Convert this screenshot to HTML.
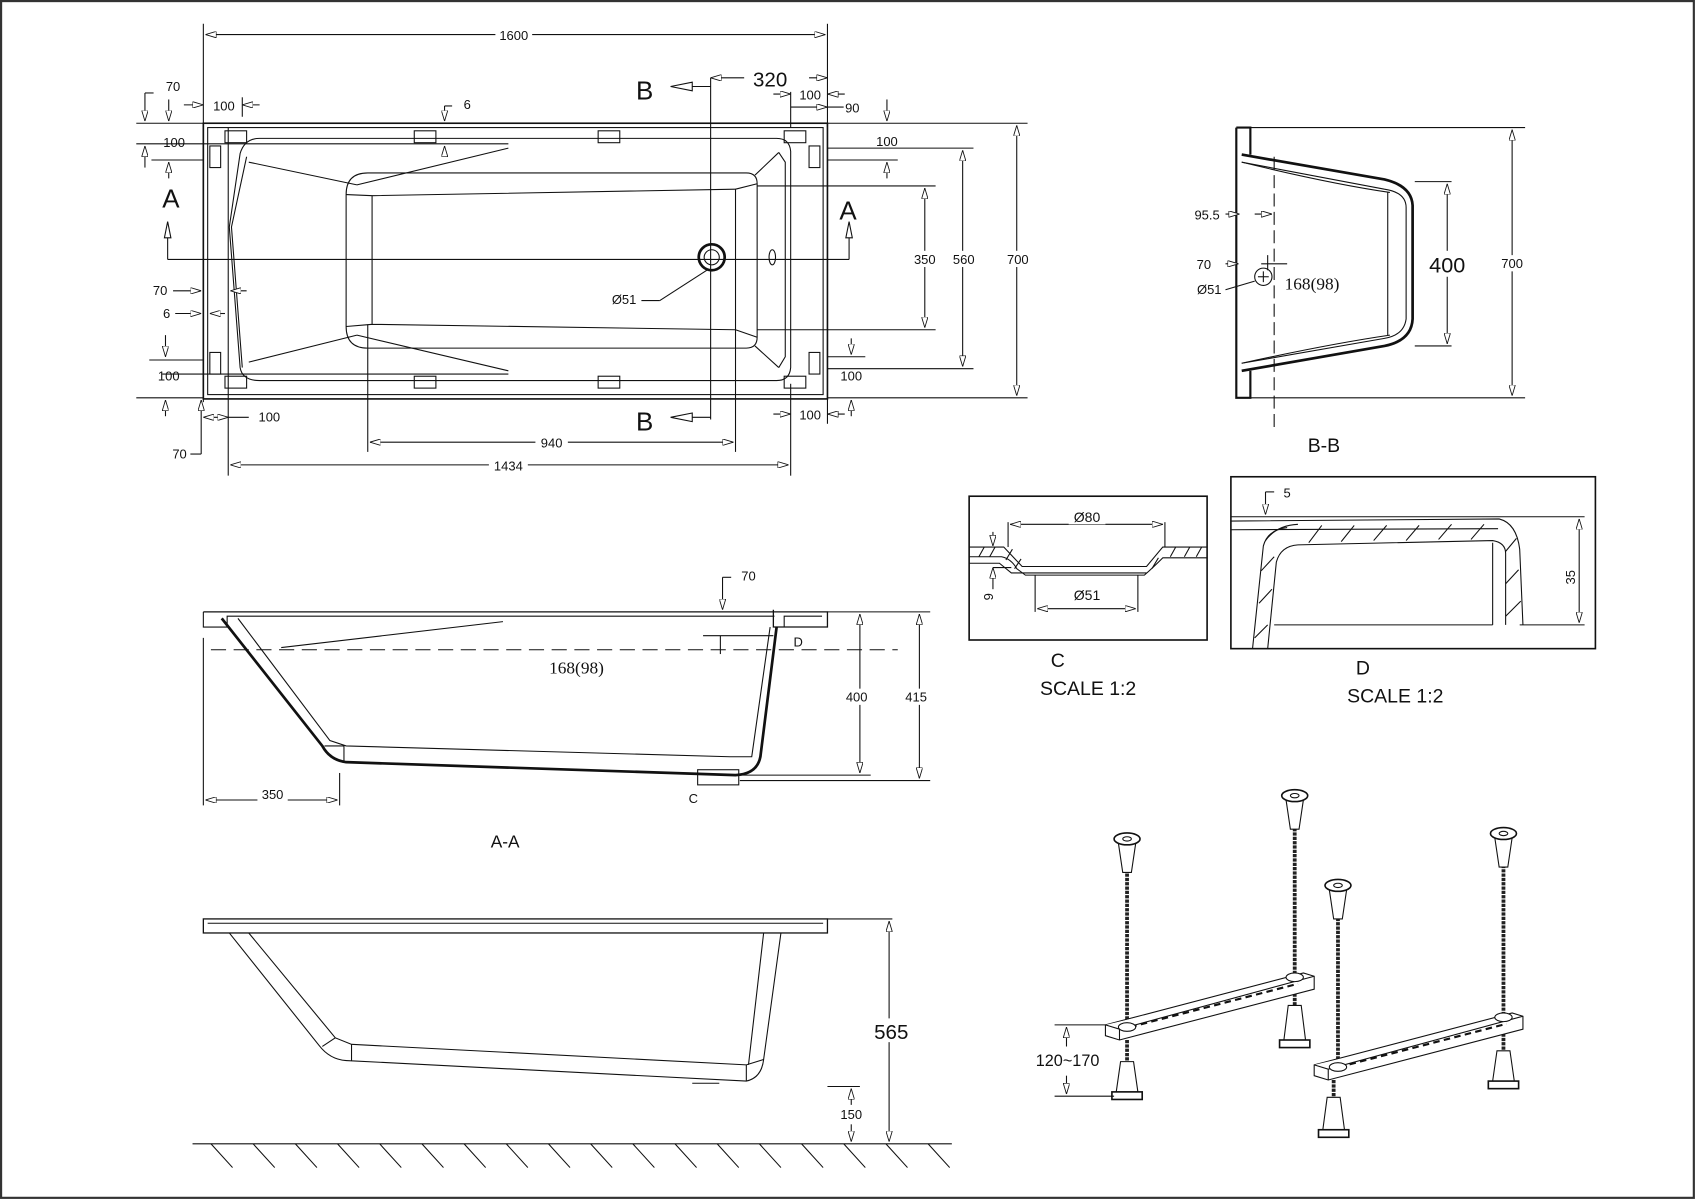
<!DOCTYPE html>
<html><head><meta charset="utf-8"><style>
html,body{margin:0;padding:0;background:#fff}
svg{display:block}
text{font-family:"Liberation Sans",sans-serif;fill:#111}
</style></head><body>
<svg width="1696" height="1200" viewBox="0 0 1568 1110" preserveAspectRatio="none" xmlns="http://www.w3.org/2000/svg">
<defs>
<marker id="a" viewBox="0 0 10 6" refX="10" refY="3" markerWidth="10" markerHeight="6" orient="auto-start-reverse" markerUnits="userSpaceOnUse"><path d="M0,0 L10,3 L0,6 Z" fill="#fff" stroke="#111" stroke-width="0.8"/></marker>
</defs>
<rect x="1" y="1" width="1565" height="1107" fill="#fff" stroke="#333" stroke-width="2"/>
<g stroke="#111" fill="none" stroke-width="1">
<!-- ===== TOP VIEW ===== -->
<line x1="188" y1="22" x2="188" y2="372"/><line x1="765" y1="22" x2="765" y2="118"/>
<line x1="190" y1="32" x2="763" y2="32" marker-start="url(#a)" marker-end="url(#a)"/>
<rect x="188" y="114" width="577" height="255" stroke-width="1.5"/>
<rect x="192" y="118" width="569" height="247"/>
<line x1="126" y1="114" x2="188" y2="114"/><line x1="126" y1="368" x2="188" y2="368"/>
<line x1="126" y1="133" x2="470" y2="133"/>
<line x1="140" y1="148" x2="188" y2="148"/><line x1="138" y1="333" x2="188" y2="333"/>
<line x1="150" y1="346" x2="470" y2="346"/>
<g>
<rect x="208" y="121" width="20" height="11"/><rect x="383" y="121" width="20" height="11"/><rect x="553" y="121" width="20" height="11"/><rect x="725" y="121" width="20" height="11"/>
<rect x="208" y="348" width="20" height="11"/><rect x="383" y="348" width="20" height="11"/><rect x="553" y="348" width="20" height="11"/><rect x="725" y="348" width="20" height="11"/>
<rect x="194" y="135" width="10" height="20"/><rect x="194" y="326" width="10" height="20"/>
<rect x="748" y="135" width="10" height="20"/><rect x="748" y="326" width="10" height="20"/>
</g>
<path d="M240,128 L718,128 Q730,128 731,140 L731,340 Q730,352 718,352 L240,352 Q224,352 222,340 L212,210 L222,142 Q226,128 240,128 Z"/>
<path d="M228,145 L214,210 L224,340" />
<path d="M230,150 L330,171 M230,335 L330,310"/>
<path d="M330,171 L470,137 M330,310 L470,343"/>
<path d="M340,160 L690,160 Q700,160 700,170 L700,312 Q700,322 690,322 L340,322 Q320,322 320,302 L320,180 Q320,160 340,160 Z"/>
<path d="M344,181 L680,175 M344,300 L680,305 M320,180 L344,181 L344,300 L320,302"/>
<path d="M680,175 L680,305 M680,175 L700,170 M680,305 L700,312"/>
<path d="M698,162 L720,141 M698,320 L720,340 M720,141 L726,150 L726,330 L720,340"/>
<ellipse cx="714" cy="238" rx="3" ry="7"/>
<circle cx="658" cy="238" r="12" stroke-width="2.5"/><circle cx="658" cy="238" r="7"/>
<line x1="655" y1="249" x2="610" y2="278"/><line x1="593" y1="278" x2="610" y2="278"/>
<line x1="155" y1="240" x2="785" y2="240"/>
<line x1="155" y1="220" x2="155" y2="240"/><path d="M152,220 L155,205 L158,220 Z" fill="#fff"/>
<line x1="785" y1="220" x2="785" y2="240"/><path d="M782,220 L785,205 L788,220 Z" fill="#fff"/>
<line x1="657" y1="72" x2="657" y2="388"/>
<line x1="640" y1="80" x2="657" y2="80"/><path d="M640,76 L620,80 L640,84 Z" fill="#fff"/>
<line x1="640" y1="386" x2="657" y2="386"/><path d="M640,382 L620,386 L640,390 Z" fill="#fff"/>
<line x1="657" y1="72" x2="688" y2="72" marker-start="url(#a)"/>
<line x1="748" y1="72" x2="765" y2="72" marker-end="url(#a)"/>
<line x1="731" y1="85" x2="731" y2="118"/><line x1="731" y1="355" x2="731" y2="440"/>
<line x1="715" y1="87" x2="731" y2="87" marker-end="url(#a)"/><line x1="765" y1="87" x2="781" y2="87" marker-start="url(#a)"/>
<line x1="731" y1="99" x2="765" y2="99" marker-end="url(#a)"/><line x1="765" y1="99" x2="780" y2="99"/>
<line x1="765" y1="137" x2="900" y2="137"/><line x1="765" y1="148" x2="830" y2="148"/>
<line x1="700" y1="172" x2="865" y2="172"/><line x1="700" y1="305" x2="865" y2="305"/>
<line x1="765" y1="330" x2="800" y2="330"/><line x1="765" y1="341" x2="900" y2="341"/>
<line x1="765" y1="114" x2="950" y2="114"/><line x1="765" y1="368" x2="950" y2="368"/>
<line x1="855" y1="174" x2="855" y2="303" marker-start="url(#a)" marker-end="url(#a)"/>
<line x1="890" y1="139" x2="890" y2="339" marker-start="url(#a)" marker-end="url(#a)"/>
<line x1="940" y1="116" x2="940" y2="366" marker-start="url(#a)" marker-end="url(#a)"/>
<line x1="820" y1="92" x2="820" y2="112" marker-end="url(#a)"/>
<line x1="820" y1="150" x2="820" y2="165" marker-start="url(#a)"/>
<line x1="787" y1="313" x2="787" y2="328" marker-end="url(#a)"/>
<line x1="787" y1="370" x2="787" y2="385" marker-start="url(#a)"/>
<line x1="715" y1="383" x2="731" y2="383" marker-end="url(#a)"/><line x1="765" y1="383" x2="781" y2="383" marker-start="url(#a)"/>
<line x1="765" y1="368" x2="765" y2="392"/>
<line x1="211" y1="118" x2="211" y2="440"/><line x1="224" y1="90" x2="224" y2="108"/>
<line x1="170" y1="97" x2="188" y2="97" marker-end="url(#a)"/><line x1="224" y1="97" x2="240" y2="97" marker-start="url(#a)"/>
<line x1="134" y1="86" x2="134" y2="112" marker-end="url(#a)"/><line x1="134" y1="86" x2="142" y2="86"/>
<line x1="156" y1="92" x2="156" y2="112" marker-end="url(#a)"/>
<line x1="134" y1="135" x2="134" y2="155" marker-start="url(#a)"/>
<line x1="156" y1="150" x2="156" y2="165" marker-start="url(#a)"/>
<line x1="411" y1="98" x2="411" y2="112" marker-end="url(#a)"/><line x1="411" y1="98" x2="418" y2="98"/>
<line x1="411" y1="135" x2="411" y2="142" marker-start="url(#a)"/>
<line x1="160" y1="269" x2="186" y2="269" marker-end="url(#a)"/>
<line x1="213" y1="269" x2="228" y2="269" marker-start="url(#a)"/>
<line x1="162" y1="290" x2="186" y2="290" marker-end="url(#a)"/>
<line x1="194" y1="290" x2="208" y2="290" marker-start="url(#a)"/>
<line x1="153" y1="310" x2="153" y2="330" marker-end="url(#a)"/>
<line x1="153" y1="370" x2="153" y2="385" marker-start="url(#a)"/>
<line x1="186" y1="370" x2="186" y2="420" marker-start="url(#a)"/><line x1="176" y1="420" x2="186" y2="420"/>
<line x1="188" y1="386" x2="211" y2="386" marker-start="url(#a)" marker-end="url(#a)"/><line x1="211" y1="386" x2="230" y2="386"/>
<line x1="340" y1="300" x2="340" y2="418"/><line x1="680" y1="305" x2="680" y2="418"/>
<line x1="342" y1="409" x2="678" y2="409" marker-start="url(#a)" marker-end="url(#a)"/>
<line x1="213" y1="430" x2="729" y2="430" marker-start="url(#a)" marker-end="url(#a)"/>
</g>
<g font-size="12" text-anchor="middle">
<rect x="458" y="24" width="34" height="16" fill="#fff"/><text x="475" y="37">1600</text>
<text x="160" y="84">70</text><text x="207" y="102">100</text><text x="432" y="101">6</text>
<text x="161" y="136">100</text><text x="820" y="135">100</text>
<text x="749" y="92">100</text><text x="788" y="104">90</text>
<text x="148" y="273">70</text><text x="154" y="294">6</text>
<text x="156" y="352">100</text><text x="787" y="352">100</text>
<text x="249" y="390">100</text><text x="749" y="388">100</text><text x="166" y="424">70</text>
<rect x="495" y="402" width="30" height="15" fill="#fff"/><text x="510" y="414">940</text>
<rect x="452" y="423" width="36" height="15" fill="#fff"/><text x="470" y="435">1434</text>
<text x="577" y="281">Ø51</text>
<rect x="844" y="232" width="22" height="15" fill="#fff"/><text x="855" y="244">350</text>
<rect x="878" y="232" width="26" height="15" fill="#fff"/><text x="891" y="244">560</text>
<rect x="928" y="232" width="26" height="15" fill="#fff"/><text x="941" y="244">700</text>
</g>
<g font-size="24" text-anchor="middle">
<text x="596" y="92">B</text><text x="596" y="398">B</text>
<text x="158" y="192">A</text><text x="784" y="203">A</text>
<text x="712" y="80" font-size="19">320</text>
</g>
<!-- ===== B-B ===== -->
<g stroke="#111" fill="none" stroke-width="1">
<path d="M1143,118 L1156,118 L1156,143 M1143,118 L1143,368 L1156,368 L1156,343" stroke-width="2"/>
<path d="M1148,143 L1280,166 Q1305,172 1306,190 L1306,295 Q1305,315 1280,320 L1148,343" stroke-width="2.5"/>
<path d="M1148,150 L1280,175 Q1300,178 1300,192 L1300,295 Q1298,310 1280,313 L1148,336"/>
<path d="M1148,150 Q1230,170 1285,178 M1148,336 Q1230,318 1285,310 M1283,178 L1283,310"/>
<line x1="1156" y1="118" x2="1410" y2="118"/><line x1="1156" y1="368" x2="1410" y2="368"/>
<line x1="1398" y1="120" x2="1398" y2="366" marker-start="url(#a)" marker-end="url(#a)"/>
<line x1="1308" y1="168" x2="1342" y2="168"/><line x1="1308" y1="320" x2="1342" y2="320"/>
<line x1="1338" y1="170" x2="1338" y2="318" marker-start="url(#a)" marker-end="url(#a)"/>
<line x1="1178" y1="145" x2="1178" y2="395" stroke-dasharray="12,5"/>
<line x1="1133" y1="198" x2="1146" y2="198" marker-end="url(#a)"/><line x1="1160" y1="198" x2="1176" y2="198" marker-end="url(#a)"/>
<line x1="1133" y1="244" x2="1145" y2="244" marker-end="url(#a)"/><line x1="1166" y1="244" x2="1190" y2="244"/>
<line x1="1172" y1="236" x2="1172" y2="250"/>
<circle cx="1168" cy="256" r="8"/><line x1="1163" y1="256" x2="1173" y2="256"/><line x1="1168" y1="251" x2="1168" y2="261"/>
<line x1="1133" y1="268" x2="1160" y2="260"/>
</g>
<g text-anchor="middle">
<text x="1116" y="203" font-size="12">95.5</text>
<text x="1113" y="249" font-size="12">70</text>
<text x="1118" y="272" font-size="12">Ø51</text>
<text x="1213" y="268" font-size="16" style="font-family:'Liberation Serif',serif" fill="#444">168(98)</text>
<rect x="1318" y="232" width="40" height="24" fill="#fff"/><text x="1338" y="252" font-size="20">400</text>
<rect x="1386" y="236" width="24" height="15" fill="#fff"/><text x="1398" y="248" font-size="12">700</text>
<text x="1224" y="418" font-size="18">B-B</text>
</g>
<!-- ===== Detail C ===== -->
<g stroke="#111" fill="none" stroke-width="1">
<rect x="896" y="459" width="220" height="133" stroke-width="1.5"/>
<path d="M896,506 L928,506 L945,524 L1060,524 L1075,506 L1116,506"/>
<path d="M896,515 L926,515 Q935,517 940,526 L948,532 L1058,532 Q1066,525 1075,516 L1116,516"/>
<path d="M896,521 L924,521 L935,530 L1060,530"/>
<path d="M905,515 L910,506 M915,515 L920,506 M930,518 L936,508 M938,526 L944,517 M1065,526 L1071,516 M1082,515 L1087,506 M1095,515 L1100,506 M1106,515 L1111,506"/>
<line x1="932" y1="483" x2="932" y2="506"/><line x1="1077" y1="483" x2="1077" y2="506"/>
<line x1="934" y1="485" x2="1075" y2="485" marker-start="url(#a)" marker-end="url(#a)"/>
<line x1="957" y1="532" x2="957" y2="566"/><line x1="1052" y1="532" x2="1052" y2="566"/>
<line x1="959" y1="563" x2="1050" y2="563" marker-start="url(#a)" marker-end="url(#a)"/>
<line x1="918" y1="492" x2="918" y2="505" marker-end="url(#a)"/>
<line x1="918" y1="545" x2="918" y2="525" marker-end="url(#a)"/><line x1="918" y1="525" x2="935" y2="525"/>
</g>
<g text-anchor="middle">
<rect x="988" y="469" width="34" height="16" fill="#fff"/><text x="1005" y="483" font-size="13">Ø80</text>
<text x="1005" y="555" font-size="13">Ø51</text>
<text x="914" y="556" font-size="12" transform="rotate(-90 914 552)">9</text>
<text x="978" y="617" font-size="18">C</text>
<text x="1006" y="643" font-size="18">SCALE 1:2</text>
</g>
<!-- ===== Detail D ===== -->
<g stroke="#111" fill="none" stroke-width="1">
<rect x="1138" y="441" width="337" height="159" stroke-width="1.5"/>
<line x1="1138" y1="478" x2="1465" y2="478"/>
<path d="M1138,482 L1386,480 Q1402,484 1405,508 L1408,578"/>
<path d="M1138,490 L1385,489"/>
<path d="M1170,500 Q1180,486 1200,485"/>
<path d="M1158,600 L1168,505 Q1172,490 1190,488"/>
<path d="M1172,600 L1180,520 Q1184,505 1200,504 L1380,500 Q1392,502 1392,512 L1392,578"/>
<path d="M1178,578 L1380,578 M1380,502 L1380,578"/>
<path d="M1210,502 L1222,486 M1240,501 L1252,486 M1270,500 L1282,486 M1300,500 L1312,486 M1330,499 L1342,485 M1360,499 L1372,485 M1392,510 L1402,498 M1392,540 L1404,527 M1392,570 L1406,556 M1160,590 L1172,578 M1164,558 L1176,545 M1166,528 L1178,515"/>
<line x1="1170" y1="455" x2="1170" y2="476" marker-end="url(#a)"/><line x1="1170" y1="455" x2="1178" y2="455"/>
<line x1="1405" y1="578" x2="1465" y2="578"/>
<line x1="1460" y1="480" x2="1460" y2="576" marker-start="url(#a)" marker-end="url(#a)"/>
</g>
<g text-anchor="middle">
<text x="1190" y="460" font-size="12">5</text>
<text x="1456" y="534" font-size="12" transform="rotate(-90 1456 534)">35</text>
<text x="1260" y="624" font-size="18">D</text>
<text x="1290" y="650" font-size="18">SCALE 1:2</text>
</g>
<!-- ===== A-A ===== -->
<g stroke="#111" fill="none" stroke-width="1">
<path d="M188,566 L765,566 L765,580 L715,580 L715,564" stroke-width="1.2"/>
<path d="M188,566 L188,580 L210,580 L210,570 L716,570"/>
<path d="M725,580 L725,570 L760,570"/>
<path d="M205,572 L298,690 Q305,703 320,705 L680,717 Q700,716 703,700 L718,580" stroke-width="2.5"/>
<path d="M220,572 L305,685 L320,690 L675,700 L695,700 L712,580"/>
<path d="M300,690 L318,690 L318,705"/>
<path d="M260,599 L465,575"/>
<rect x="645" y="712" width="38" height="14"/>
<line x1="188" y1="590" x2="188" y2="745"/><line x1="314" y1="715" x2="314" y2="745"/>
<line x1="190" y1="740" x2="312" y2="740" marker-start="url(#a)" marker-end="url(#a)"/>
<line x1="195" y1="601" x2="830" y2="601" stroke-dasharray="14,7"/>
<line x1="765" y1="566" x2="860" y2="566"/>
<line x1="684" y1="717" x2="805" y2="717"/><line x1="684" y1="722" x2="860" y2="722"/>
<line x1="795" y1="568" x2="795" y2="715" marker-start="url(#a)" marker-end="url(#a)"/>
<line x1="850" y1="568" x2="850" y2="720" marker-start="url(#a)" marker-end="url(#a)"/>
<line x1="668" y1="534" x2="668" y2="564" marker-end="url(#a)"/><line x1="668" y1="534" x2="676" y2="534"/>
<line x1="650" y1="588" x2="715" y2="588"/><line x1="666" y1="588" x2="666" y2="605"/>
</g>
<g text-anchor="middle" font-size="12">
<text x="692" y="537">70</text>
<text x="738" y="598">D</text>
<text x="641" y="743">C</text>
<rect x="238" y="727" width="28" height="14" fill="#fff"/><text x="252" y="739">350</text>
<rect x="780" y="637" width="30" height="15" fill="#fff"/><text x="792" y="649">400</text>
<rect x="834" y="637" width="30" height="15" fill="#fff"/><text x="847" y="649">415</text>
<text x="533" y="623" font-size="16" style="font-family:'Liberation Serif',serif" fill="#444">168(98)</text>
<text x="467" y="784" font-size="16">A-A</text>
</g>
<!-- ===== Elevation ===== -->
<g stroke="#111" fill="none" stroke-width="1">
<rect x="188" y="850" width="577" height="13" stroke-width="1.2"/>
<line x1="192" y1="854" x2="761" y2="854"/>
<path d="M212,863 L295,967 Q305,980 320,981 L690,1000 Q704,997 706,980 L722,863"/>
<path d="M230,863 L310,960 L325,966 L690,985 L706,980"/>
<path d="M310,960 L298,968 M325,966 L325,981 M690,985 L690,1000 M706,863 L692,985"/>
<path d="M640,1002 L665,1002"/>
<line x1="178" y1="1058" x2="880" y2="1058"/>
<path d="M195,1058 l20,22 M234,1058 l20,22 M273,1058 l20,22 M312,1058 l20,22 M351,1058 l20,22 M390,1058 l20,22 M429,1058 l20,22 M468,1058 l20,22 M507,1058 l20,22 M546,1058 l20,22 M585,1058 l20,22 M624,1058 l20,22 M663,1058 l20,22 M702,1058 l20,22 M741,1058 l20,22 M780,1058 l20,22 M819,1058 l20,22 M858,1058 l20,22"/>
<line x1="765" y1="850" x2="825" y2="850"/>
<line x1="822" y1="852" x2="822" y2="1056" marker-start="url(#a)" marker-end="url(#a)"/>
<line x1="765" y1="1005" x2="795" y2="1005"/>
<line x1="787" y1="1007" x2="787" y2="1022" marker-start="url(#a)"/>
<line x1="787" y1="1040" x2="787" y2="1056" marker-end="url(#a)"/>
</g>
<g text-anchor="middle">
<rect x="808" y="942" width="30" height="22" fill="#fff"/><text x="824" y="961" font-size="19">565</text>
<text x="787" y="1035" font-size="12">150</text>
</g>
<!-- ===== Legs ===== -->
<g stroke="#111" fill="#fff" stroke-width="1">
<g stroke-width="3.5" stroke="#222" stroke-dasharray="3,1">
<line x1="1042" y1="800" x2="1042" y2="950"/>
<line x1="1197" y1="762" x2="1197" y2="905"/>
<line x1="1237" y1="845" x2="1237" y2="985"/>
<line x1="1390" y1="796" x2="1390" y2="942"/>
<line x1="1042" y1="962" x2="1042" y2="982"/>
<line x1="1197" y1="915" x2="1197" y2="930"/>
<line x1="1233" y1="999" x2="1233" y2="1015"/>
<line x1="1390" y1="952" x2="1390" y2="972"/>
</g>
<path d="M1022,948 L1205,900 L1215,903 L1215,915 L1035,962 L1022,958 Z"/>
<path d="M1022,948 L1035,952 L1215,903 M1035,952 L1035,962"/>
<path d="M1045,950 L1200,910" stroke-dasharray="6,4" stroke-width="2"/>
<path d="M1215,985 L1398,937 L1408,940 L1408,952 L1228,999 L1215,995 Z"/>
<path d="M1215,985 L1228,989 L1408,940 M1228,989 L1228,999"/>
<path d="M1238,987 L1393,947" stroke-dasharray="6,4" stroke-width="2"/>
<ellipse cx="1042" cy="950" rx="8" ry="4"/><ellipse cx="1197" cy="904" rx="8" ry="4"/>
<ellipse cx="1237" cy="987" rx="8" ry="4"/><ellipse cx="1390" cy="941" rx="8" ry="4"/>
<g>
<path d="M1034,780 L1050,780 L1046,807 L1038,807 Z"/><ellipse cx="1042" cy="776" rx="12" ry="5.5" stroke-width="1.5"/><ellipse cx="1042" cy="776" rx="4" ry="2"/>
<path d="M1189,740 L1205,740 L1201,767 L1193,767 Z"/><ellipse cx="1197" cy="736" rx="12" ry="5.5" stroke-width="1.5"/><ellipse cx="1197" cy="736" rx="4" ry="2"/>
<path d="M1229,823 L1245,823 L1241,850 L1233,850 Z"/><ellipse cx="1237" cy="819" rx="12" ry="5.5" stroke-width="1.5"/><ellipse cx="1237" cy="819" rx="4" ry="2"/>
<path d="M1382,775 L1398,775 L1394,802 L1386,802 Z"/><ellipse cx="1390" cy="771" rx="12" ry="5.5" stroke-width="1.5"/><ellipse cx="1390" cy="771" rx="4" ry="2"/>
</g>
<g>
<path d="M1036,982 L1048,982 L1052,1010 L1032,1010 Z"/><rect x="1028" y="1010" width="28" height="7" stroke-width="1.5"/>
<path d="M1191,930 L1203,930 L1207,962 L1187,962 Z"/><rect x="1183" y="962" width="28" height="7" stroke-width="1.5"/>
<path d="M1227,1015 L1239,1015 L1243,1045 L1223,1045 Z"/><rect x="1219" y="1045" width="28" height="7" stroke-width="1.5"/>
<path d="M1384,972 L1396,972 L1400,1000 L1380,1000 Z"/><rect x="1376" y="1000" width="28" height="7" stroke-width="1.5"/>
</g>
<g fill="none">
<line x1="975" y1="948" x2="1022" y2="948"/><line x1="975" y1="1014" x2="1030" y2="1014"/>
<line x1="986" y1="950" x2="986" y2="968" marker-start="url(#a)"/>
<line x1="986" y1="995" x2="986" y2="1012" marker-end="url(#a)"/>
</g>
</g>
<text x="987" y="986" font-size="15" text-anchor="middle">120~170</text>
</svg>
</body></html>
